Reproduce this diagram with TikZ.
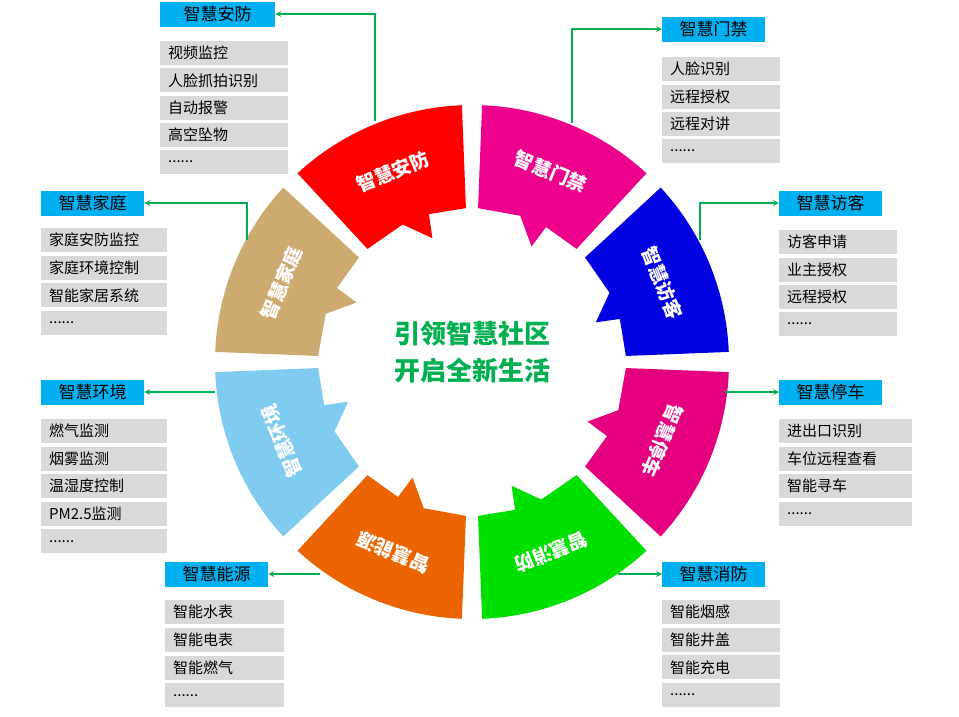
\documentclass[tikz,border=0pt]{standalone}
\usepackage{fontspec}
\setmainfont{Noto Sans CJK SC}
\usetikzlibrary{positioning,arrows}
\definecolor{lineg}{HTML}{00B050}
\definecolor{titlec}{HTML}{00B0F0}
\definecolor{itemg}{HTML}{D9D9D9}
\definecolor{segpark}{HTML}{E4007F}
\definecolor{segfire}{HTML}{00E000}
\definecolor{segenergy}{HTML}{EC6400}
\definecolor{segenv}{HTML}{80CCF0}
\definecolor{seghome}{HTML}{CDAA70}
\tikzstyle{title}=[fill=titlec, minimum width=103pt, minimum height=25pt, inner sep=0pt, font=\fontsize{17}{17}\selectfont]
\tikzstyle{item}=[fill=itemg, anchor=north west, minimum height=24pt, inner xsep=8pt, inner ysep=0pt, align=left, font=\fontsize{15}{15}\selectfont]
\tikzstyle{link}=[draw=lineg, line width=1.6pt, ->, >=stealth]
\tikzstyle{segtext}=[text=white, font=\bfseries\fontsize{19}{19}\selectfont]
\newcommand{\moredots}{......}
% one ring piece: colour, start angle, label, name
\newcommand{\ringseg}[4]{
  \fill[#1] (#2:257pt) arc[start angle=#2, end angle={#2+40.5}, radius=257pt]
    -- ({#2+40.5}:154pt) -- ({#2+24.5}:154pt) -- ({#2+15.5}:130pt)
    -- ({#2+14}:154pt) -- (#2:154pt) -- cycle;
  \node[segtext, rotate={#2+20.25-90}] (#4) at ({#2+20.25}:206pt) {#3};
}
\begin{document}
\begin{tikzpicture}[x=1pt, y=-1pt]
	\useasboundingbox (0,0) rectangle (959,716);
	\begin{scope}[shift={(472,362)}]
	\ringseg{red}{92.25}{智慧安防}{s1}
	\ringseg{magenta}{47.25}{智慧门禁}{s2}
	\ringseg{blue!88!black}{2.25}{智慧访客}{s3}
	\ringseg{segpark}{-42.75}{智慧停车}{s4}
	\ringseg{segfire}{-87.75}{智慧消防}{s5}
	\ringseg{segenergy}{-132.75}{智慧能源}{s6}
	\ringseg{segenv}{-177.75}{智慧环境}{s7}
	\ringseg{seghome}{137.25}{智慧家庭}{s8}
	\end{scope}

	\node[text=lineg, font=\bfseries\fontsize{26}{37}\selectfont, align=center] (core) at (472,352) {引领智慧社区\\开启全新生活};

	\node[title, anchor=west, minimum width=115pt] (t1) at (160,14) {智慧安防};
	\node[title, anchor=west] (t2) at (662,29) {智慧门禁};
	\node[title, anchor=west] (t3) at (779,203) {智慧访客};
	\node[title, anchor=west] (t4) at (779,392) {智慧停车};
	\node[title, anchor=west] (t5) at (662,574) {智慧消防};
	\node[title, anchor=west] (t6) at (165,574) {智慧能源};
	\node[title, anchor=west] (t7) at (41,392) {智慧环境};
	\node[title, anchor=west] (t8) at (41,203) {智慧家庭};

	\coordinate (p1) at (375,121);
	\coordinate (p2) at (572,123);
	\coordinate (p3) at (700,240);
	\coordinate (p4) at (725,392);
	\coordinate (p5) at (618,574);
	\coordinate (p6) at (320,574);
	\coordinate (p7) at (215,392);
	\coordinate (p8) at (247,240);
	\draw[link] (p1) |- (t1);
	\draw[link] (p2) |- (t2);
	\draw[link] (p3) |- (t3);
	\draw[link] (p4) -- (t4);
	\draw[link] (p5) -- (t5);
	\draw[link] (p6) -- (t6);
	\draw[link] (p7) -- (t7);
	\draw[link] (p8) |- (t8);

	\foreach \t [count=\i] in {视频监控,人脸抓拍识别,自动报警,高空坠物,\moredots}
		\node[item, text width=112pt] (a\i) at (160,{41+27.2*(\i-1)}) {\t};
	\foreach \t [count=\i] in {人脸识别,远程授权,远程对讲,\moredots}
		\node[item, text width=102pt] (b\i) at (662,{57+27.3*(\i-1)}) {\t};
	\foreach \t [count=\i] in {访客申请,业主授权,远程授权,\moredots}
		\node[item, text width=102pt] (c\i) at (779,{230+27.3*(\i-1)}) {\t};
	\foreach \t [count=\i] in {进出口识别,车位远程查看,智能寻车,\moredots}
		\node[item, text width=117pt] (d\i) at (779,{419+27.5*(\i-1)}) {\t};
	\foreach \t [count=\i] in {智能烟感,智能井盖,智能充电,\moredots}
		\node[item, text width=102pt] (e\i) at (662,{600+27.6*(\i-1)}) {\t};
	\foreach \t [count=\i] in {智能水表,智能电表,智能燃气,\moredots}
		\node[item, text width=103pt] (f\i) at (165,{600+27.7*(\i-1)}) {\t};
	\foreach \t [count=\i] in {燃气监测,烟雾监测,温湿度控制,PM2.5监测,\moredots}
		\node[item, text width=110pt] (g\i) at (41,{419+27.5*(\i-1)}) {\t};
	\foreach \t [count=\i] in {家庭安防监控,家庭环境控制,智能家居系统,\moredots}
		\node[item, text width=110pt] (h\i) at (41,{228+27.6*(\i-1)}) {\t};
\end{tikzpicture}
\end{document}
